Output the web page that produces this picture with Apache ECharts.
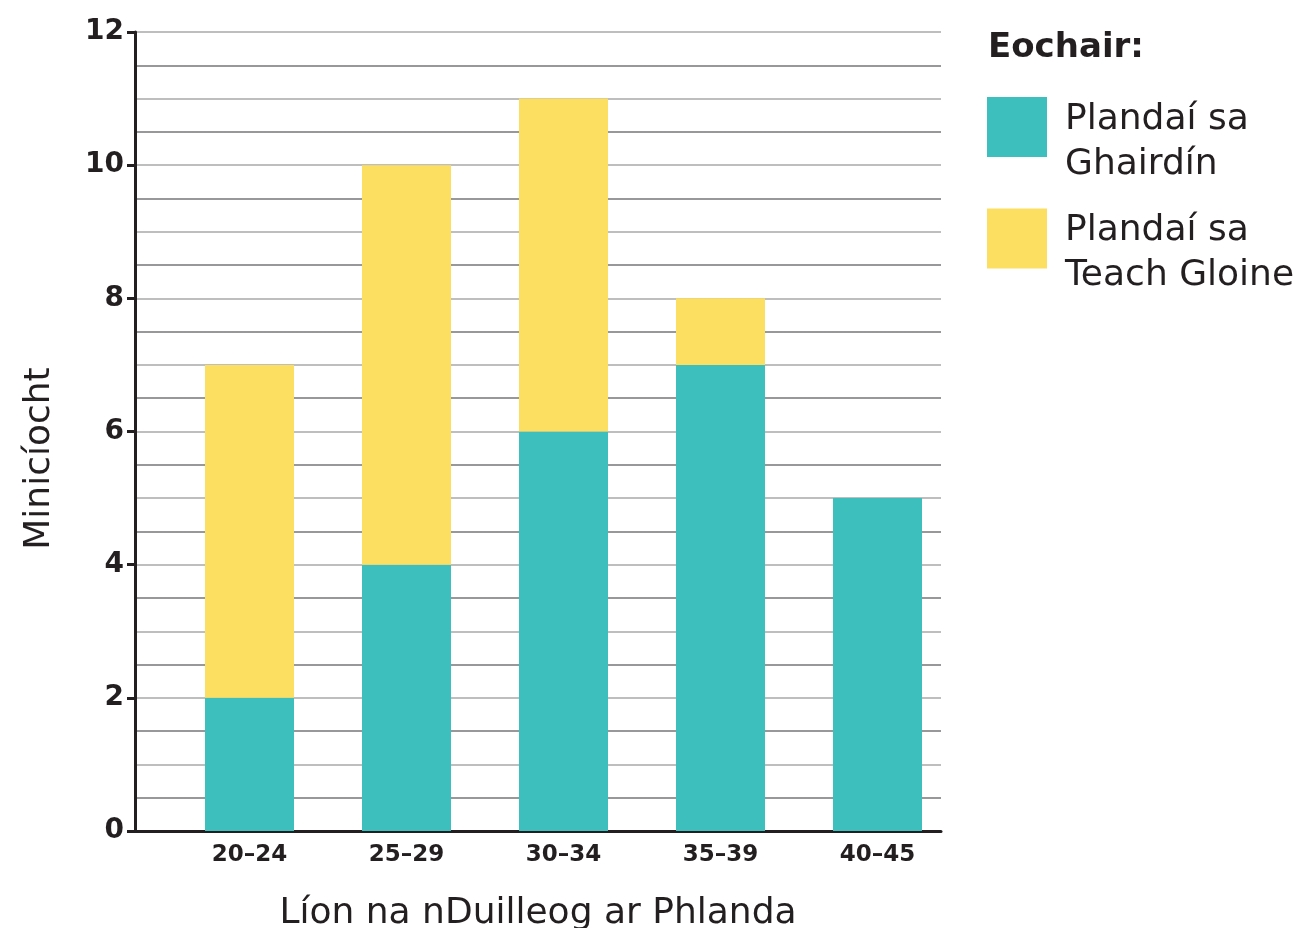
<!DOCTYPE html>
<html>
<head>
<meta charset="utf-8">
<script src="https://cdn.jsdelivr.net/npm/echarts@6/dist/echarts.min.js"></script>
<style>
html,body{margin:0;padding:0;background:#fff;}
#c{width:1297px;height:928px;}
</style>
</head>
<body>
<div id="c"></div>
<script>
const categories = ['20–24', '25–29', '30–34', '35–39', '40–45'];
const gardenPlants = [2, 4, 6, 7, 5];
const greenhousePlants = [5, 6, 5, 1, 0];
const seriesNames = ['Plandaí sa\nGhairdín', 'Plandaí sa\nTeach Gloine'];
const yTicks = [0, 2, 4, 6, 8, 10, 12];

const FONT = '"DejaVu Sans", sans-serif';
const DARK = '#231f20';

const chart = echarts.init(document.getElementById('c'));
chart.setOption({
  animation: false,
  textStyle: { fontFamily: FONT },
  title: {
    text: 'Eochair:',
    left: 983, top: 26,
    textStyle: { fontFamily: FONT, fontSize: 34, fontWeight: 'bold', color: DARK }
  },
  legend: {
    orient: 'vertical',
    left: 987, top: 77, padding: 0,
    itemWidth: 60, itemHeight: 60,
    itemGap: 6,
    icon: 'rect',
    data: seriesNames,
    formatter: name => '{s| }\n' + name.split('\n').map(t => '{a|' + t + '}').join('\n'),
    textStyle: {
      fontFamily: FONT, fontSize: 36, color: DARK, padding: [0, 0, 0, 13],
      rich: {
        s: { fontSize: 10, lineHeight: 30 },
        a: { fontFamily: FONT, fontSize: 36, lineHeight: 45, color: DARK }
      }
    }
  },
  grid: [
    { left: 135, top: 32, width: 806, height: 799, outerBoundsMode: 'none', containLabel: false },
    { left: 171, top: 32, width: 785, height: 799, outerBoundsMode: 'none', containLabel: false }
  ],
  xAxis: [
    {
      type: 'category', gridIndex: 0, data: categories,
      axisLine: { show: true, lineStyle: { color: DARK, width: 3 } },
      axisTick: { show: false }, axisLabel: { show: false },
      name: 'Líon na nDuilleog ar Phlanda',
      nameLocation: 'middle', nameGap: 65,
      nameTextStyle: { fontFamily: FONT, fontSize: 36, color: DARK }
    },
    {
      type: 'category', gridIndex: 1, data: categories,
      axisLine: { show: false }, axisTick: { show: false },
      axisLabel: { fontFamily: FONT, fontSize: 23, fontWeight: 'bold', color: DARK, margin: 13 }
    }
  ],
  yAxis: [
    {
      type: 'value', gridIndex: 0, min: 0, max: 12, interval: 0.5, position: 'left',
      axisLine: { show: false }, axisTick: { show: false }, axisLabel: { show: false },
      splitLine: { show: true, lineStyle: { color: ['#a8a8a8', '#76767a'], width: 1.5 } }
    },
    {
      type: 'value', gridIndex: 0, min: 0, max: 12, interval: 2, position: 'left',
      axisLine: { show: true, lineStyle: { color: DARK, width: 3 } },
      axisTick: { show: true, length: 8, lineStyle: { color: DARK, width: 3 } },
      axisLabel: {
        fontFamily: FONT, fontSize: 28, fontWeight: 'bold', color: DARK, margin: 11,
        padding: [6, 0, 0, 0],
        formatter: v => (yTicks.indexOf(v) >= 0 ? String(v) : '')
      },
      splitLine: { show: false },
      name: 'Minicíocht', nameLocation: 'middle', nameGap: 77, nameRotate: 90,
      nameTextStyle: { fontFamily: FONT, fontSize: 36, color: DARK, padding: [0, 54, 0, 0] }
    },
    {
      type: 'value', gridIndex: 1, min: 0, max: 12, show: false
    }
  ],
  series: [
    {
      name: seriesNames[0], type: 'bar', stack: 's', xAxisIndex: 1, yAxisIndex: 2,
      barWidth: 89, itemStyle: { color: '#3dbfbd' }, data: gardenPlants
    },
    {
      name: seriesNames[1], type: 'bar', stack: 's', xAxisIndex: 1, yAxisIndex: 2,
      barWidth: 89, itemStyle: { color: '#fcdf60' }, data: greenhousePlants
    }
  ]
});
</script>
</body>
</html>
